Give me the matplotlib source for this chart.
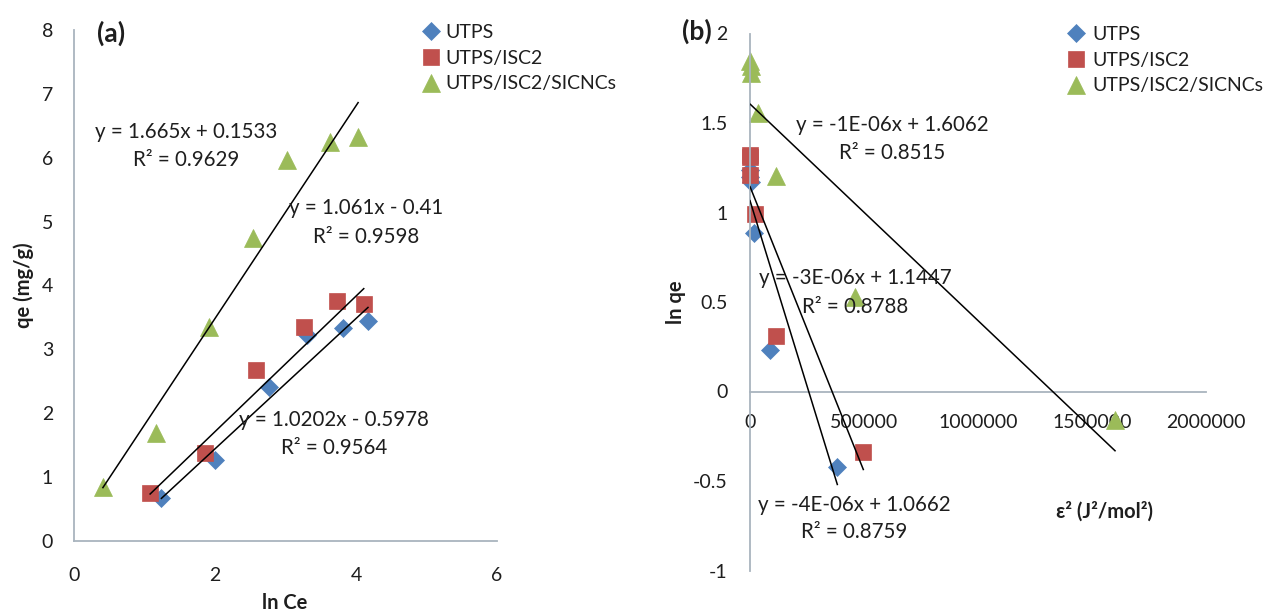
import numpy as np
import matplotlib
matplotlib.use('Agg')
from matplotlib import pyplot as plt

plt.rcParams['font.family'] = ['Lato', 'DejaVu Sans']

W, H = 1269, 615

# (a) qe against ln Ce
lnce_utps = [1.24, 2.00, 2.77, 3.30, 3.82, 4.17]
qe_utps = [0.67, 1.27, 2.41, 3.22, 3.33, 3.45]
lnce_isc2 = [1.08, 1.86, 2.58, 3.26, 3.73, 4.11]
qe_isc2 = [0.75, 1.38, 2.68, 3.35, 3.76, 3.71]
lnce_sicnc = [0.41, 1.16, 1.91, 2.54, 3.02, 3.63, 4.03]
qe_sicnc = [0.85, 1.69, 3.35, 4.74, 5.96, 6.24, 6.33]

# trendlines (a): slope, intercept
fit_a = [(1.0202, -0.5978), (1.061, -0.41), (1.665, 0.1533)]
eq_a = [('y = 1.0202x - 0.5978', 'R² = 0.9564'),
        ('y = 1.061x - 0.41', 'R² = 0.9598'),
        ('y = 1.665x + 0.1533', 'R² = 0.9629')]

# (b) ln qe against eps^2
eps2_utps = [383000, 88000, 17500, 3000, 1500, 0]
lnqe_utps = [-0.42, 0.23, 0.885, 1.17, 1.20, 1.24]
eps2_isc2 = [497000, 114000, 22000, 1000, 500, 0]
lnqe_isc2 = [-0.34, 0.31, 0.99, 1.21, 1.31, 1.32]
eps2_sicnc = [1601000, 460000, 114000, 36000, 6000, 3000, 1500]
lnqe_sicnc = [-0.16, 0.527, 1.203, 1.556, 1.78, 1.82, 1.845]

# trendlines (b): slope, intercept from label
fit_b = [(-4.14e-6, 1.0662), (-3.18e-6, 1.1447), (-1.21e-6, 1.6062)]
eq_b = [('y = -4E-06x + 1.0662', 'R² = 0.8759'),
        ('y = -3E-06x + 1.1447', 'R² = 0.8788'),
        ('y = -1E-06x + 1.6062', 'R² = 0.8515')]

names = ['UTPS', 'UTPS/ISC2', 'UTPS/ISC2/SICNCs']
colors = ['#4F81BD', '#C0504D', '#9BBB59']
markers = ['D', 's', '^']
msizes = [9.5, 12, 13.5]

axis_col = '#A9B4BE'
txt_col = '#1E1E1E'
fs = 14
fs_eq = 14.8


def px(x, y):
    return x / W, 1 - y / H


def box(x0, y0, x1, y1):
    return [x0 / W, 1 - y1 / H, (x1 - x0) / W, (y1 - y0) / H]


def style(ax, xpad, ypad):
    for s in ['top', 'right']:
        ax.spines[s].set_visible(False)
    for s in ['left', 'bottom']:
        ax.spines[s].set_color(axis_col)
        ax.spines[s].set_linewidth(1.3)
    ax.tick_params(axis='x', length=0, pad=xpad, labelsize=fs, labelcolor=txt_col)
    ax.tick_params(axis='y', length=0, pad=ypad, labelsize=fs, labelcolor=txt_col)
    ax.patch.set_alpha(0)


fig = plt.figure(figsize=(W / 100, H / 100), dpi=100)

# ---------- (a)
ax1 = fig.add_axes(box(74, 30, 497, 541))
xs_a = [lnce_utps, lnce_isc2, lnce_sicnc]
ys_a = [qe_utps, qe_isc2, qe_sicnc]
for i in range(3):
    ax1.plot(xs_a[i], ys_a[i], ls='none', marker=markers[i], ms=msizes[i],
             color=colors[i], mec=colors[i], mew=0.5, label=names[i],
             clip_on=False, zorder=2)
    xx = np.array([min(xs_a[i]), max(xs_a[i])])
    ax1.plot(xx, fit_a[i][0] * xx + fit_a[i][1], color='black', lw=1.1, zorder=3)
ax1.set_xlim(0, 6)
ax1.set_ylim(0, 8)
ax1.set_xticks([0, 2, 4, 6])
ax1.set_yticks(range(0, 9))
style(ax1, 19, 15)
ax1.legend(loc='upper left', bbox_to_anchor=px(423, 24), bbox_transform=fig.transFigure,
           frameon=False, fontsize=fs, handlelength=0.8, handletextpad=0.35,
           labelspacing=0.45, borderpad=0, borderaxespad=0, labelcolor=txt_col)

# equation labels (a)
pos_a = [(334, 420, 448), (366, 208, 237), (186, 132, 160)]
for (l1, l2), (cx, y1, y2) in zip(eq_a, pos_a):
    fig.text(*px(cx, y1), l1, ha='center', va='center', fontsize=fs_eq, color=txt_col)
    fig.text(*px(cx, y2), l2, ha='center', va='center', fontsize=fs_eq, color=txt_col)

fig.text(*px(111, 33), '(a)', ha='center', va='center', fontsize=19,
         fontweight='bold', color=txt_col)
fig.text(*px(24, 285), 'qe (mg/g)', ha='center', va='center', rotation=90,
         fontsize=14.5, fontweight='bold', color=txt_col)
fig.text(*px(285, 603), 'ln Ce', ha='center', va='center',
         fontsize=14.5, fontweight='bold', color=txt_col)

# ---------- (b)
ax2 = fig.add_axes(box(750, 33.5, 1206, 570.5))
xs_b = [eps2_utps, eps2_isc2, eps2_sicnc]
ys_b = [lnqe_utps, lnqe_isc2, lnqe_sicnc]
for i in range(3):
    ax2.plot(xs_b[i], ys_b[i], ls='none', marker=markers[i], ms=msizes[i],
             color=colors[i], mec=colors[i], mew=0.5, label=names[i],
             clip_on=False, zorder=2)
    xx = np.array([min(xs_b[i]), max(xs_b[i])])
    ax2.plot(xx, fit_b[i][0] * xx + fit_b[i][1], color='black', lw=1.1, zorder=3)
ax2.set_xlim(0, 2000000)
ax2.set_ylim(-1, 2)
ax2.set_xticks([0, 500000, 1000000, 1500000, 2000000])
ax2.set_xticklabels(['0', '500000', '1000000', '1500000', '2000000'])
ax2.set_yticks([-1, -0.5, 0, 0.5, 1, 1.5, 2])
ax2.set_yticklabels(['-1', '-0.5', '0', '0.5', '1', '1.5', '2'])
ax2.spines['bottom'].set_position(('data', 0))
style(ax2, 16, 16)
ax2.legend(loc='upper left', bbox_to_anchor=px(1068, 26), bbox_transform=fig.transFigure,
           frameon=False, fontsize=fs, handlelength=0.8, handletextpad=0.45,
           labelspacing=0.45, borderpad=0, borderaxespad=0, labelcolor=txt_col)

pos_b = [(854, 505, 532), (855, 278, 307), (892, 125, 153)]
for (l1, l2), (cx, y1, y2) in zip(eq_b, pos_b):
    fig.text(*px(cx, y1), l1, ha='center', va='center', fontsize=fs_eq, color=txt_col)
    fig.text(*px(cx, y2), l2, ha='center', va='center', fontsize=fs_eq, color=txt_col)

fig.text(*px(697, 31), '(b)', ha='center', va='center', fontsize=19,
         fontweight='bold', color=txt_col)
fig.text(*px(676, 302), 'ln qe', ha='center', va='center', rotation=90,
         fontsize=14.5, fontweight='bold', color=txt_col)
fig.text(*px(1105, 512), 'ε² (J²/mol²)', ha='center', va='center',
         fontsize=14.5, fontweight='bold', color=txt_col)

fig.savefig('out.png', dpi=100, facecolor='white')
